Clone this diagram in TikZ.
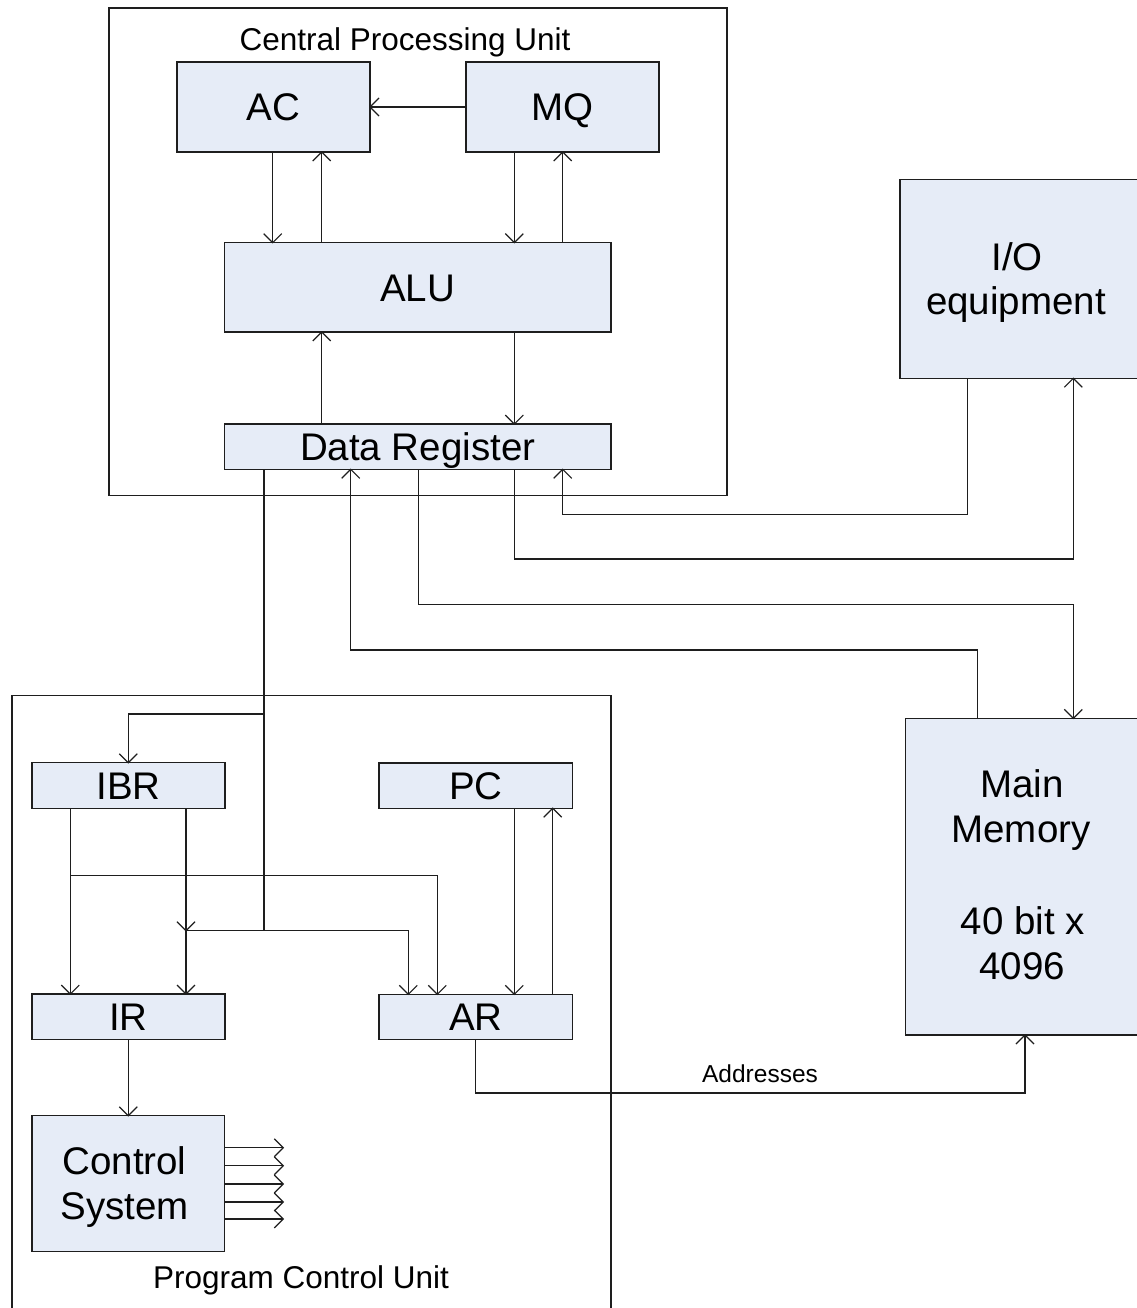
\documentclass[tikz,border=0pt]{standalone}
\usepackage{fontspec}
\setmainfont{Liberation Sans}
\usetikzlibrary{arrows.meta,calc}
\definecolor{boxfill}{RGB}{230,236,247}
\definecolor{edge}{RGB}{30,30,30}
\pgfdeclarearrow{
  name = OpenV,
  parameters = {\the\pgfarrowlength,\the\pgfarrowwidth},
  setup code = {
    \pgfarrowssettipend{0pt}
    \pgfarrowssetlineend{0pt}
    \pgfarrowssetbackend{-\pgfarrowlength}
    \pgfarrowsupperhullpoint{-\pgfarrowlength}{.5\pgfarrowwidth}
    \pgfarrowssavethe\pgfarrowlength
    \pgfarrowssavethe\pgfarrowwidth
  },
  drawing code = {
    \pgfsetdash{}{0pt}
    \pgfsetmiterjoin
    \pgfpathmoveto{\pgfqpoint{-\pgfarrowlength}{.5\pgfarrowwidth}}
    \pgfpathlineto{\pgfpointorigin}
    \pgfpathlineto{\pgfqpoint{-\pgfarrowlength}{-.5\pgfarrowwidth}}
    \pgfusepathqstroke
  },
  defaults = {length=9pt, width=18pt}
}
\begin{document}
\begin{tikzpicture}[x=1pt,y=-1pt,
  every node/.style={inner sep=0pt, outer sep=0pt},
  box/.style={draw=edge, fill=boxfill, line width=1.3pt, anchor=center,
    font=\fontsize{38.5}{45}\selectfont, text height=27.5pt, text depth=0pt},
  lbl/.style={font=\fontsize{38.5}{45}\selectfont, anchor=base},
  regiontitle/.style={font=\fontsize{31.5}{37}\selectfont, anchor=base},
  smalltext/.style={font=\fontsize{24.5}{29}\selectfont, anchor=base},
  frame/.style={draw=edge, line width=1.2pt, anchor=center},
  conn/.style={draw=edge, line width=1.2pt},
  arr/.style={conn, -{OpenV[length=9pt,width=18pt]}}
]
\useasboundingbox (0,0) rectangle (1136,1308);

% frames
\node[frame, minimum width=618pt, minimum height=487.5pt] (cpu) at (418,251.75) {};
\node[frame, minimum width=599pt, minimum height=640pt] (pcu) at (311.5,1015.3) {};
\node[regiontitle] (cputitle) at (405,51) {Central Processing Unit};
\node[regiontitle] (pcutitle) at (301,1288) {Program Control Unit};

% boxes
\node[box, minimum width=193pt, minimum height=90pt] (ac) at (273.5,107) {AC\hspace{6pt}};
\node[box, minimum width=193pt, minimum height=90pt] (mq) at (562.5,107) {MQ\hspace{4pt}};
\node[box, minimum width=386.7pt, minimum height=89.3pt] (alu) at (417.7,287.3) {ALU};
\node[box, minimum width=386.7pt, minimum height=45.3pt] (dr) at (417.7,446.7) {Data Register\hspace{10pt}};
\node[box, minimum width=240pt, minimum height=199pt] (io) at (1020,278.8) {};
\node[box, minimum width=234.7pt, minimum height=316.7pt] (mem) at (1022.65,876.7) {};
\node[box, minimum width=193pt, minimum height=45.6pt] (ibr) at (128.5,785.5) {IBR};
\node[box, minimum width=193.7pt, minimum height=45.3pt] (pc) at (475.9,785.6) {PC};
\node[box, minimum width=193pt, minimum height=45.7pt] (ir) at (128.5,1016.9) {IR};
\node[box, minimum width=193.7pt, minimum height=45.4pt] (ar) at (475.9,1017) {AR};
\node[box, minimum width=192.3pt, minimum height=136pt] (cs) at (128.2,1183.7) {};

% multi-line labels
\node[lbl] (io1) at (1017,270) {I/O};
\node[lbl] (io2) at (1016,314) {equipment};
\node[lbl] (mem1) at (1022,797.5) {Main};
\node[lbl] (mem2) at (1021,842.5) {Memory};
\node[lbl] (mem3) at (1023,934.5) {40 bit x};
\node[lbl] (mem4) at (1022,979.5) {4096};
\node[lbl] (cs1) at (124.5,1174.5) {Control};
\node[lbl] (cs2) at (124.5,1219) {System};

% routing coordinates
\coordinate (xA) at (272.7,0);
\coordinate (xB) at (321.7,0);
\coordinate (xC) at (514.3,0);
\coordinate (xD) at (562.7,0);
\coordinate (xE) at (264,0);
\coordinate (xF) at (350.7,0);
\coordinate (xG) at (418.3,0);
\coordinate (xH) at (967.7,0);
\coordinate (xI) at (1073.3,0);
\coordinate (xJ) at (977.7,0);
\coordinate (xK) at (1025,0);
\coordinate (xL) at (128.3,0);
\coordinate (xM) at (70.3,0);
\coordinate (xN) at (186,0);
\coordinate (xO) at (408.3,0);
\coordinate (xP) at (437.3,0);
\coordinate (xQ) at (552.7,0);
\coordinate (xR) at (475.7,0);
\coordinate (y1) at (0,514.3);
\coordinate (y2) at (0,559);
\coordinate (y3) at (0,604.3);
\coordinate (y4) at (0,650);
\coordinate (y5) at (0,713.9);
\coordinate (y6) at (0,875.7);
\coordinate (y7) at (0,930.7);
\coordinate (y8) at (0,1093);

% CPU connectors
\draw[arr] (mq.west) -- (ac.east);
\draw[arr] (ac.south -| xA) -- (alu.north -| xA);
\draw[arr] (alu.north -| xB) -- (ac.south -| xB);
\draw[arr] (mq.south -| xC) -- (alu.north -| xC);
\draw[arr] (alu.north -| xD) -- (mq.south -| xD);
\draw[arr] (dr.north -| xB) -- (alu.south -| xB);
\draw[arr] (alu.south -| xC) -- (dr.north -| xC);

% I/O and memory
\draw[arr] (io.south -| xH) -- (xH |- y1) -- (xD |- y1) -- (dr.south -| xD);
\draw[arr] (dr.south -| xC) -- (xC |- y2) -- (xI |- y2) -- (io.south -| xI);
\draw[arr] (dr.south -| xG) -- (xG |- y3) -- (xI |- y3) -- (mem.north -| xI);
\draw[arr] (mem.north -| xJ) -- (xJ |- y4) -- (xF |- y4) -- (dr.south -| xF);

% program control unit
\draw[conn] (dr.south -| xE) -- (xE |- y7);
\draw[arr] (xE |- y5) -- (xL |- y5) -- (ibr.north -| xL);
\draw[arr] (xN |- y7) -- (xO |- y7) -- (ar.north -| xO);
\draw[arr] (ibr.south -| xM) -- (ir.north -| xM);
\draw[arr] (xM |- y6) -- (xP |- y6) -- (ar.north -| xP);
\draw[arr] (ibr.south -| xN) -- (xN |- y7);
\draw[arr] (xN |- y7) -- (ir.north -| xN);
\draw[arr] (pc.south -| xC) -- (ar.north -| xC);
\draw[arr] (ar.north -| xQ) -- (pc.south -| xQ);
\draw[arr] (ir.south -| xL) -- (cs.north -| xL);
\draw[arr] (ar.south -| xR) -- (xR |- y8) -- (xK |- y8) -- (mem.south -| xK);
\node[smalltext] (addr) at (760,1082) {Addresses};

% control outputs
\foreach \yy [count=\i] in {1147.7,1165.7,1184,1202,1219} {
  \coordinate (o\i) at (283.3,\yy);
  \draw[arr] (cs.east |- o\i) -- (o\i);
}
\end{tikzpicture}
\end{document}
